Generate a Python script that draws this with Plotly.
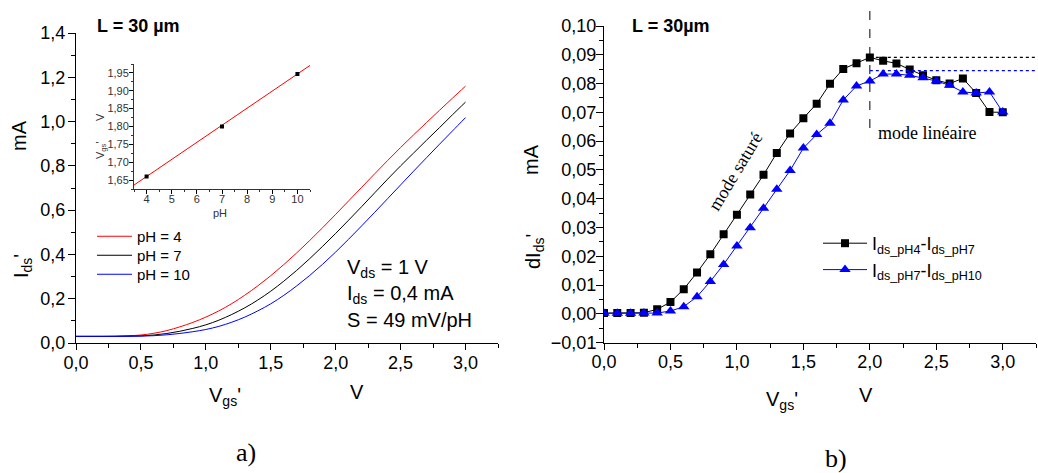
import plotly.graph_objects as go

W, H = 1038, 473
SANS = "Liberation Sans, Arial, sans-serif"
SERIF = "Liberation Serif, Times New Roman, serif"

# ---------------- data: panel a) ----------------
vgs = [0.0, 0.1, 0.2, 0.3, 0.4, 0.5, 0.6, 0.7, 0.8, 0.9, 1.0, 1.1, 1.2, 1.3, 1.4, 1.5,
       1.6, 1.7, 1.8, 1.9, 2.0, 2.1, 2.2, 2.3, 2.4, 2.5, 2.6, 2.7, 2.8, 2.9, 3.0]
ids_ph4 = [0.030, 0.030, 0.030, 0.031, 0.033, 0.036, 0.044, 0.056, 0.073, 0.093, 0.117,
           0.145, 0.178, 0.216, 0.258, 0.304, 0.354, 0.407, 0.463, 0.521, 0.581, 0.642,
           0.703, 0.764, 0.824, 0.883, 0.940, 0.996, 1.051, 1.106, 1.160]
ids_ph7 = [0.030, 0.030, 0.030, 0.030, 0.031, 0.032, 0.036, 0.043, 0.053, 0.066, 0.082,
           0.103, 0.129, 0.159, 0.194, 0.234, 0.279, 0.328, 0.381, 0.437, 0.495, 0.555,
           0.616, 0.678, 0.740, 0.800, 0.858, 0.916, 0.973, 1.031, 1.088]
ids_ph10 = [0.030, 0.030, 0.030, 0.030, 0.030, 0.031, 0.033, 0.037, 0.043, 0.051, 0.061,
            0.075, 0.094, 0.117, 0.145, 0.177, 0.215, 0.258, 0.305, 0.356, 0.411, 0.469,
            0.529, 0.590, 0.652, 0.714, 0.776, 0.837, 0.898, 0.958, 1.018]
ph_labels = ["pH = 4", "pH = 7", "pH = 10"]

# inset: Vgs' at Ids = 0.4 mA versus pH
inset_ph = [4, 7, 10]
inset_vgs = [1.660, 1.800, 1.947]
fit_ph = [3.5, 10.5]
fit_vgs = [1.636, 1.971]

# ---------------- data: panel b) ----------------
d_ph4_ph7 = [0.0003, 0.0003, 0.0003, 0.0004, 0.0016, 0.0041, 0.0086, 0.0144, 0.0207, 0.0277,
             0.0344, 0.0415, 0.0483, 0.0559, 0.0627, 0.0680, 0.0730, 0.0799, 0.0851, 0.0871,
             0.0891, 0.0879, 0.0870, 0.0849, 0.0829, 0.0812, 0.0800, 0.0818, 0.0767, 0.0701,
             0.0700]
d_ph7_ph10 = [0.0002, 0.0002, 0.0002, 0.0003, 0.0003, 0.0010, 0.0025, 0.0060, 0.0113, 0.0172,
              0.0236, 0.0299, 0.0367, 0.0433, 0.0498, 0.0576, 0.0623, 0.0662, 0.0743, 0.0792,
              0.0809, 0.0833, 0.0833, 0.0829, 0.0820, 0.0809, 0.0794, 0.0771, 0.0767, 0.0771,
              0.0701]
level_ph4_ph7 = 0.0891
level_ph7_ph10 = 0.0845
mode_boundary_v = 2.0

fig = go.Figure()

# panel a curves (each in its own single-item legend to control row spacing)
fig.add_trace(go.Scatter(x=vgs, y=ids_ph4, mode="lines", name=ph_labels[0],
                         line=dict(color="#ff0000", width=1, shape="spline"),
                         xaxis="x", yaxis="y", legend="legend"))
fig.add_trace(go.Scatter(x=vgs, y=ids_ph7, mode="lines", name=ph_labels[1],
                         line=dict(color="#000000", width=1, shape="spline"),
                         xaxis="x", yaxis="y", legend="legend3"))
fig.add_trace(go.Scatter(x=vgs, y=ids_ph10, mode="lines", name=ph_labels[2],
                         line=dict(color="#0000ff", width=1, shape="spline"),
                         xaxis="x", yaxis="y", legend="legend4"))

# inset
fig.add_trace(go.Scatter(x=fit_ph, y=fit_vgs, mode="lines", showlegend=False,
                         line=dict(color="#ff0000", width=1), xaxis="x3", yaxis="y3"))
fig.add_trace(go.Scatter(x=inset_ph, y=inset_vgs, mode="markers", showlegend=False,
                         marker=dict(symbol="square", size=4, color="#000000"),
                         xaxis="x3", yaxis="y3"))

# panel b
fig.add_trace(go.Scatter(x=vgs, y=d_ph4_ph7, mode="lines+markers",
                         name="I<sub>ds_pH4</sub>-I<sub>ds_pH7</sub>",
                         line=dict(color="#000000", width=1),
                         marker=dict(symbol="square", size=8, color="#000000"),
                         xaxis="x2", yaxis="y2", legend="legend2"))
fig.add_trace(go.Scatter(x=vgs, y=d_ph7_ph10, mode="lines+markers",
                         name="I<sub>ds_pH7</sub>-I<sub>ds_pH10</sub>",
                         line=dict(color="#0000ff", width=1),
                         marker=dict(symbol="triangle-up", size=10, color="#0000ff"),
                         xaxis="x2", yaxis="y2", legend="legend2"))


def px_x(px):
    return px / W


def px_y(py):
    return 1 - py / H


axis_common = dict(showline=True, linecolor="black", linewidth=1, mirror=False,
                   showgrid=False, zeroline=False, ticks="outside", tickcolor="black",
                   tickwidth=1, automargin=False,
                   tickfont=dict(family=SANS, size=18, color="black"))


def small_legend(py_top):
    return dict(x=px_x(92), y=px_y(py_top), xanchor="left", yanchor="top",
                bgcolor="rgba(0,0,0,0)", borderwidth=0, itemwidth=35,
                font=dict(family=SANS, size=15, color="black"), tracegroupgap=0)


fig.update_layout(
    width=W, height=H, margin=dict(l=0, r=0, t=0, b=0, autoexpand=False),
    paper_bgcolor="white", plot_bgcolor="rgba(0,0,0,0)",
    separators=", ",
    font=dict(family=SANS, color="black"),
    xaxis=dict(axis_common, domain=[px_x(76), px_x(498)], range=[0, 3.25],
               dtick=0.5, tick0=0, tickformat=".1f", ticklen=6, anchor="y",
               ticklabelstandoff=-3,
               minor=dict(ticks="outside", dtick=0.25, ticklen=4, tickcolor="black")),
    yaxis=dict(axis_common, domain=[px_y(343), px_y(33)], range=[0, 1.4],
               dtick=0.2, tick0=0, tickformat=".1f", ticklen=7, anchor="x",
               ticklabelstandoff=-1,
               minor=dict(ticks="outside", dtick=0.1, ticklen=4, tickcolor="black")),
    xaxis2=dict(axis_common, domain=[px_x(604), px_x(1036)], range=[0, 3.25],
                dtick=0.5, tick0=0, tickformat=".1f", ticklen=6, anchor="y2",
                ticklabelstandoff=-3,
                minor=dict(ticks="outside", dtick=0.25, ticklen=4, tickcolor="black")),
    yaxis2=dict(axis_common, domain=[px_y(342.7), px_y(26)], range=[-0.01, 0.10],
                dtick=0.01, tick0=0, tickformat=".2f", ticklen=7, anchor="x2",
                ticklabelstandoff=-4,
                minor=dict(ticks="outside", dtick=0.005, ticklen=4, tickcolor="black")),
    xaxis3=dict(axis_common, domain=[px_x(134), px_x(310)], range=[3.5, 10.5],
                dtick=1, tick0=0, ticklen=4, anchor="y3", linecolor="#333",
                ticklabelstandoff=-4,
                tickfont=dict(family=SANS, size=11, color="#333"),
                minor=dict(ticks="outside", dtick=0.5, ticklen=2, tickcolor="#333")),
    yaxis3=dict(axis_common, domain=[px_y(189), px_y(64)], range=[1.625, 1.975],
                dtick=0.05, tick0=0, tickformat=".2f", ticklen=4, anchor="x3",
                linecolor="#333", ticklabelstandoff=-2,
                tickfont=dict(family=SANS, size=11, color="#333"),
                minor=dict(ticks="outside", dtick=0.025, ticklen=2, tickcolor="#333")),
    legend=small_legend(220),
    legend3=small_legend(239),
    legend4=small_legend(258),
    legend2=dict(x=px_x(818), y=px_y(225), xanchor="left", yanchor="top",
                 bgcolor="rgba(0,0,0,0)", borderwidth=0, itemwidth=44,
                 font=dict(family=SANS, size=18, color="black"), tracegroupgap=0),
)

# reference lines in panel b
fig.add_shape(type="line", xref="x2", yref="paper", x0=mode_boundary_v, x1=mode_boundary_v,
              y0=px_y(128), y1=px_y(10), line=dict(color="black", width=1, dash="dash"))
fig.add_shape(type="line", xref="x2", yref="y2", x0=mode_boundary_v, x1=3.25,
              y0=level_ph4_ph7, y1=level_ph4_ph7, line=dict(color="black", width=1.2, dash="dot"))
fig.add_shape(type="line", xref="x2", yref="y2", x0=mode_boundary_v, x1=3.25,
              y0=level_ph7_ph10, y1=level_ph7_ph10, line=dict(color="#0000ff", width=1.2, dash="dot"))


def ann(text, px, py, size, family=SANS, angle=0, xanchor="center", yanchor="middle",
        color="black"):
    fig.add_annotation(text=text, x=px_x(px), y=px_y(py), xref="paper", yref="paper",
                       showarrow=False, textangle=angle, xanchor=xanchor, yanchor=yanchor,
                       font=dict(family=family, size=size, color=color))


# panel a labels
ann("<b>L = 30 µm</b>", 95, 26, 18, xanchor="left")
ann("mA", 19, 136, 20, angle=-90)
ann("I<sub>ds</sub>'", 22, 266, 20, angle=-90)
ann("V<sub>gs</sub>'", 225, 396, 20)
ann("V", 357, 392, 20)
ann("V<sub>ds</sub> = 1 V", 345, 268, 20, xanchor="left")
ann("I<sub>ds</sub> = 0,4 mA", 345, 294, 20, xanchor="left")
ann("S = 49 mV/pH", 345, 320, 20, xanchor="left")
ann("a)", 246, 452, 26, family=SERIF)
# inset labels
ann("V", 100, 117, 11, angle=-90, color="#333")
ann("V<sub>gs</sub>'", 101, 150, 11, angle=-90, color="#333")
ann("pH", 220, 213, 11, color="#333")

# panel b labels
ann("<b>L = 30µm</b>", 630, 26, 18, xanchor="left")
ann("mA", 531, 160, 20, angle=-90)
ann("dI<sub>ds</sub>'", 534, 252, 20, angle=-90)
ann("V<sub>gs</sub>'", 782, 400, 20)
ann("V", 866, 395, 20)
ann("mode linéaire", 927, 133, 18, family=SERIF)
ann("mode saturé", 735, 172, 18, family=SERIF, angle=-59)
ann("b)", 836, 458, 26, family=SERIF)

fig.write_html("out.html", config={"displayModeBar": False},
               post_script="document.body.style.margin='0';document.body.style.overflow='hidden';")
